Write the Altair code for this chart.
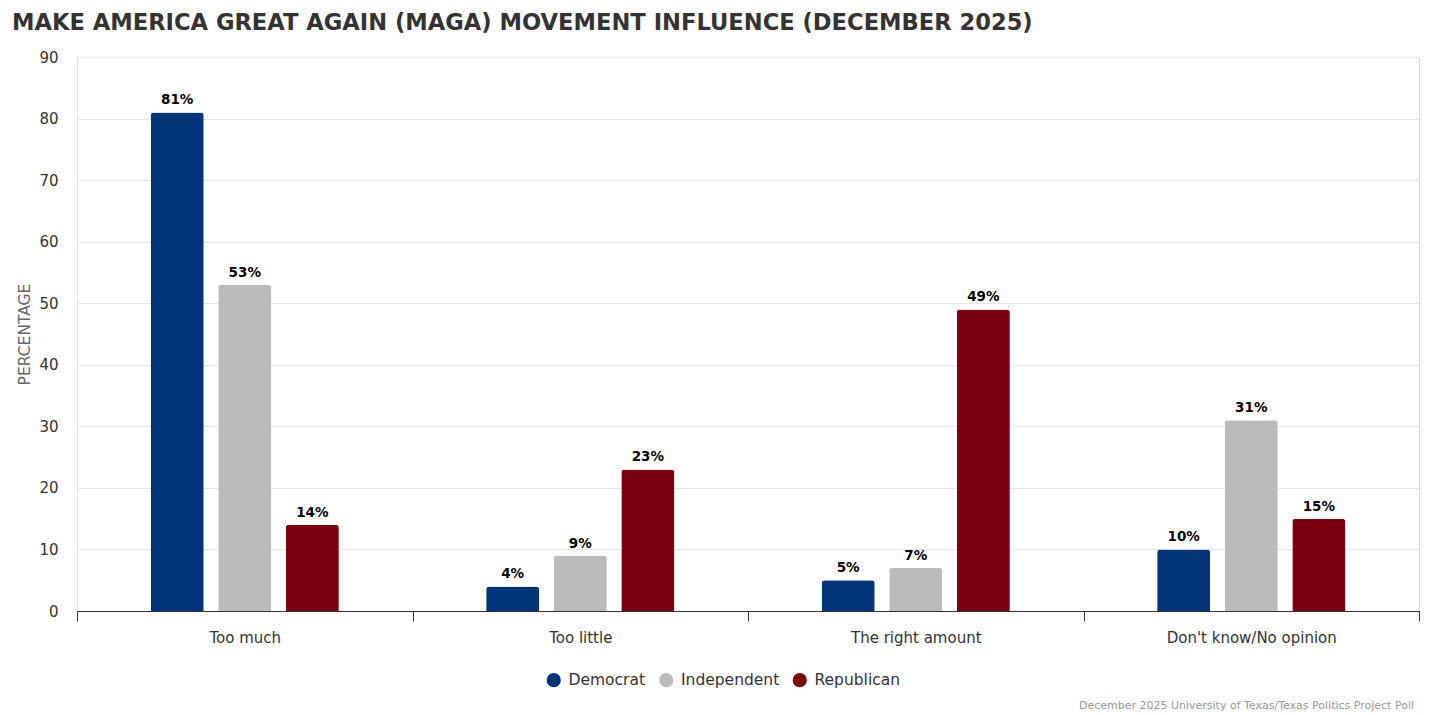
import altair as alt
import pandas as pd

categories = ["Too much", "Too little", "The right amount", "Don't know/No opinion"]
parties = ["Democrat", "Independent", "Republican"]
democrat = [81, 4, 5, 10]
independent = [53, 9, 7, 31]
republican = [14, 23, 49, 15]
colors = ["#003378", "#bbbbbb", "#7a0010"]

rows = []
for i, c in enumerate(categories):
    for p, vals in zip(parties, [democrat, independent, republican]):
        rows.append({"category": c, "party": p, "value": vals[i], "label": f"{vals[i]}%"})
df = pd.DataFrame(rows)

FONT = "DejaVu Sans"
offset_domain = ["_l"] + parties + ["_r"]

x = alt.X("category:N", sort=categories, title=None,
          scale=alt.Scale(paddingInner=0, paddingOuter=0),
          axis=alt.Axis(labelAngle=0, labelFontSize=15, labelColor="#333333",
                        labelFont=FONT, domainColor="#333333", tickColor="#333333",
                        tickSize=10, tickBand="extent", labelPadding=9, grid=False))
xo = alt.XOffset("party:N",
                 scale=alt.Scale(domain=offset_domain, paddingInner=0.215, paddingOuter=0.09))
y = alt.Y("value:Q", title="PERCENTAGE",
          scale=alt.Scale(domain=[0, 90], nice=False),
          axis=alt.Axis(values=list(range(0, 91, 10)), labelFontSize=15,
                        labelColor="#333333", labelFont=FONT, domain=False, ticks=False,
                        labelPadding=19, gridColor="#e6e6e6", titleFont=FONT,
                        titleFontSize=15.5, titleColor="#666666", titleFontWeight="normal",
                        titlePadding=6))
color = alt.Color("party:N", sort=parties,
                  scale=alt.Scale(domain=parties, range=colors),
                  legend=alt.Legend(title=None, orient="none", direction="horizontal",
                                    legendX=469, legendY=615, symbolType="circle",
                                    symbolSize=200, symbolStrokeWidth=0,
                                    labelFontSize=15.5, labelFont=FONT, labelOffset=7,
                                    labelColor="#333333", columnPadding=12.5,
                                    symbolOpacity=1))

bars = alt.Chart(df).mark_bar(cornerRadiusTopLeft=3, cornerRadiusTopRight=3).encode(
    x=x, xOffset=xo, y=y, color=color)

labels = alt.Chart(df).mark_text(font=FONT, fontSize=13.5, fontWeight="bold",
                                 color="#000000", baseline="alphabetic", dy=-8).encode(
    x=alt.X("category:N", sort=categories), xOffset=xo, y="value:Q", text="label:N")

footer = alt.Chart(pd.DataFrame({"t": ["December 2025 University of Texas/Texas Politics Project Poll"]})).mark_text(
    font=FONT, fontSize=11, color="#999999", align="right", baseline="middle").encode(
    x=alt.value(1337), y=alt.value(649), text="t:N")

chart = alt.layer(bars, labels, footer).properties(
    width=1342, height=554,
    autosize=alt.AutoSizeParams(type="none"),
    padding={"left": 69, "top": 49, "right": 4, "bottom": 102},
    title=alt.TitleParams("MAKE AMERICA GREAT AGAIN (MAGA) MOVEMENT INFLUENCE (DECEMBER 2025)",
                          anchor="start", frame="group", font=FONT, fontSize=22.6,
                          fontWeight="bold", color="#333333", dx=-65, offset=15),
).configure_view(stroke="transparent", strokeWidth=0, strokeOpacity=0).configure(background="white")

chart.save("out.html", embed_options={"renderer": "svg", "actions": False})
